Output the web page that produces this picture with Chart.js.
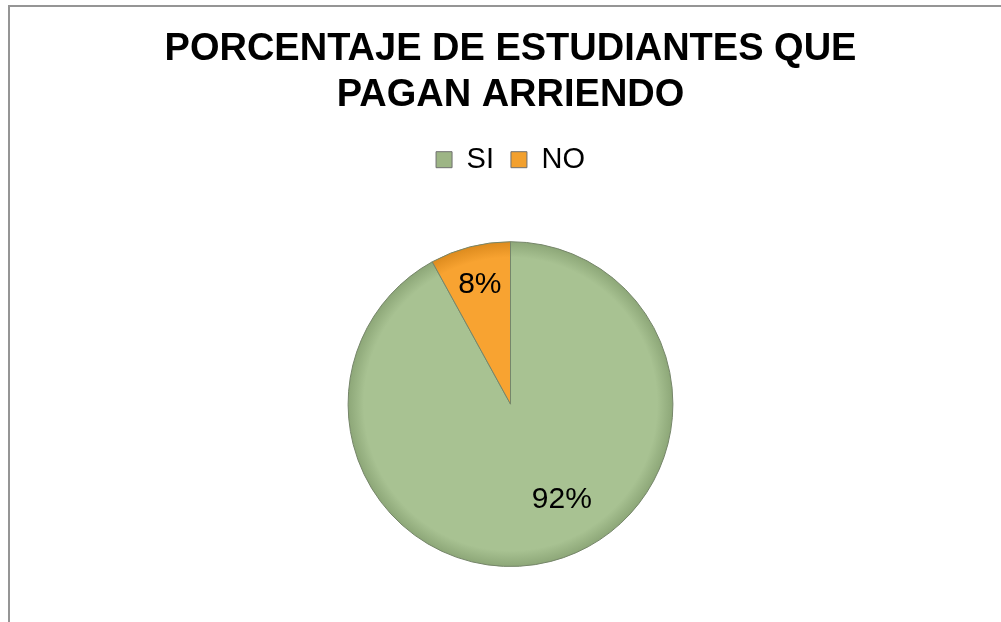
<!DOCTYPE html>
<html>
<head>
<meta charset="utf-8">
<script src="https://cdn.jsdelivr.net/npm/chart.js@4/dist/chart.umd.min.js"></script>
<style>
  html, body { margin: 0; padding: 0; background: #fff; }
  #wrap { width: 1001px; height: 622px; }
</style>
</head>
<body>
<div id="wrap"><canvas id="myChart"></canvas></div>
<script>
/*------------------------------DATA--------------------------------------------*/

const labels = ['SI', 'NO'];
const values = [92, 8];

// base / dark tones for each slice
const baseColors = ['#a8c292', '#f8a331'];
const darkColors = ['#8ca677', '#dc8a1d'];
const legendColors = ['#9db585', '#f2a02e'];

/*------------------------------HELPERS-----------------------------------------*/

function sliceFill(ctx) {
    const i = ctx.dataIndex;
    const area = ctx.chart.chartArea;
    if (!area) return baseColors[i];
    const cx = (area.left + area.right) / 2;
    const cy = (area.top + area.bottom) / 2;
    const r = Math.min(area.right - area.left, area.bottom - area.top) / 2;
    const g = ctx.chart.ctx.createRadialGradient(cx, cy, 0, cx, cy, r);
    g.addColorStop(0, baseColors[i]);
    g.addColorStop(0.9, baseColors[i]);
    g.addColorStop(1, darkColors[i]);
    return g;
}

// grey frame round the chart (only left and top show in the picture)
const framePlugin = {
    id: 'frame',
    beforeDraw(chart) {
        const c = chart.ctx;
        c.save();
        c.fillStyle = '#fff';
        c.fillRect(0, 0, chart.width, chart.height);
        c.strokeStyle = '#959595';
        c.lineWidth = 2;
        c.strokeRect(9, 6, chart.width + 50, chart.height + 50);
        c.restore();
    }
};

// extra space under the legend
const legendSpace = {
    id: 'legendSpace',
    beforeInit(chart) {
        const fit = chart.legend.fit;
        chart.legend.fit = function () {
            fit.bind(chart.legend)();
            this.height += 57;
        };
    }
};

// percentage labels inside the slices
const sliceLabels = {
    id: 'sliceLabels',
    afterDatasetsDraw(chart) {
        const c = chart.ctx;
        const meta = chart.getDatasetMeta(0);
        const fracs = [0.67, 0.76];
        const shift = [-0.24, 0];
        c.save();
        c.font = '30px "Liberation Sans", Arial, sans-serif';
        c.fillStyle = '#000';
        c.textAlign = 'center';
        c.textBaseline = 'middle';
        meta.data.forEach((arc, i) => {
            const p = arc.getProps(['x', 'y', 'startAngle', 'endAngle', 'outerRadius'], true);
            const mid = (p.startAngle + p.endAngle) / 2 + shift[i];
            const r = p.outerRadius * fracs[i];
            c.fillText(values[i] + '%', p.x + Math.cos(mid) * r, p.y + Math.sin(mid) * r);
        });
        c.restore();
    }
};

/*------------------------------CHART-------------------------------------------*/

const data = {
    labels: labels,
    datasets: [{
        label: 'Arriendo',
        data: values,
        backgroundColor: sliceFill,
        borderColor: '#76866a',
        borderWidth: 1
    }]
};

const config = {
    type: 'pie',
    data: data,
    options: {
        responsive: true,
        maintainAspectRatio: false,
        animation: false,
        layout: { padding: { left: 20, right: 0, top: 0, bottom: 55 } },
        plugins: {
            title: {
                display: true,
                text: ['PORCENTAJE DE ESTUDIANTES QUE', 'PAGAN ARRIENDO'],
                color: '#000',
                font: { family: '"Liberation Sans", Arial, sans-serif', size: 38, weight: 'bold', lineHeight: 1.2 },
                padding: { top: 27, bottom: 10 }
            },
            legend: {
                display: true,
                position: 'top',
                labels: {
                    color: '#000',
                    font: { family: '"Liberation Sans", Arial, sans-serif', size: 29 },
                    boxWidth: 16,
                    boxHeight: 16,
                    padding: 17,
                    generateLabels: (chart) => chart.data.labels.map((l, i) => ({
                        text: l,
                        fillStyle: legendColors[i],
                        strokeStyle: '#6f6f6f',
                        lineWidth: 1,
                        fontColor: '#000',
                        hidden: false,
                        index: i
                    }))
                }
            },
            tooltip: { enabled: false }
        }
    },
    plugins: [framePlugin, legendSpace, sliceLabels]
};

const myChart = new Chart(document.getElementById('myChart'), config);
</script>
</body>
</html>
